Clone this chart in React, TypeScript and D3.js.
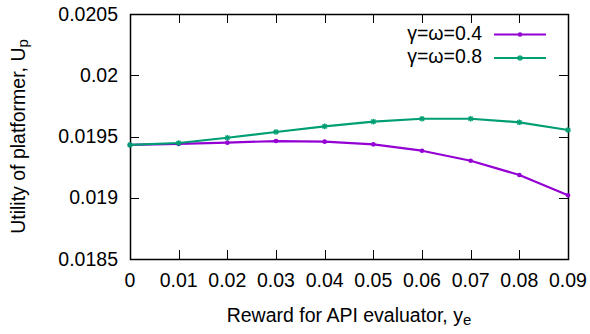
import React, { useEffect, useRef } from "react";
import * as d3 from "d3";

const rewards = [0, 0.01, 0.02, 0.03, 0.04, 0.05, 0.06, 0.07, 0.08, 0.09];
const utilLow = [0.019431, 0.019439, 0.01945, 0.019463, 0.019458, 0.019436, 0.019384, 0.019302, 0.019186, 0.01902];
const utilHigh = [0.019431, 0.019447, 0.01949, 0.019537, 0.019583, 0.019621, 0.019645, 0.019645, 0.019616, 0.019553];
const yTicks = [0.0185, 0.019, 0.0195, 0.02, 0.0205];
const xTickLabels = ["0", "0.01", "0.02", "0.03", "0.04", "0.05", "0.06", "0.07", "0.08", "0.09"];

const W = 590;
const H = 334;
const FONT = "'Liberation Sans', Arial, sans-serif";

function App() {
  const ref = useRef<SVGSVGElement>(null);

  useEffect(() => {
    const margin = { top: 14, right: 22, bottom: 75, left: 130 };
    const svg = d3.select(ref.current);
    svg.selectAll("*").remove();

    const x = d3.scaleLinear().domain([0, 0.09]).range([margin.left, W - margin.right]);
    const y = d3.scaleLinear().domain([0.0185, 0.0205]).range([H - margin.bottom, margin.top]);
    const [x0, x1] = x.range();
    const [y0, y1] = y.range();

    const g = svg.append("g").attr("font-family", FONT).attr("font-size", 19.5).attr("fill", "#000");

    // ticks (inward, mirrored)
    const ticks = g.append("g").attr("stroke", "#000").attr("stroke-width", 1);
    rewards.forEach((r) => {
      const px = Math.round(x(r)) + 0.5;
      ticks.append("line").attr("x1", px).attr("x2", px).attr("y1", y0).attr("y2", y0 - 9);
      ticks.append("line").attr("x1", px).attr("x2", px).attr("y1", y1).attr("y2", y1 + 9);
    });
    yTicks.forEach((t) => {
      const py = Math.round(y(t)) + 0.5;
      ticks.append("line").attr("x1", x0).attr("x2", x0 + 9).attr("y1", py).attr("y2", py);
      ticks.append("line").attr("x1", x1).attr("x2", x1 - 9).attr("y1", py).attr("y2", py);
    });

    // frame
    g.append("rect")
      .attr("x", x0 + 0.5)
      .attr("y", y1 + 0.5)
      .attr("width", x1 - x0)
      .attr("height", y0 - y1)
      .attr("fill", "none")
      .attr("stroke", "#000")
      .attr("stroke-width", 1.5);

    // tick labels
    g.selectAll(".ylab")
      .data(yTicks)
      .enter()
      .append("text")
      .attr("x", x0 - 12)
      .attr("y", (d) => y(d) + 6.5)
      .attr("text-anchor", "end")
      .text((d) => String(d));

    g.selectAll(".xlab")
      .data(rewards)
      .enter()
      .append("text")
      .attr("x", (d) => x(d))
      .attr("y", y0 + 28)
      .attr("text-anchor", "middle")
      .text((d, i) => xTickLabels[i]);

    // axis titles
    const xt = g
      .append("text")
      .attr("x", (x0 + x1) / 2)
      .attr("y", 322)
      .attr("text-anchor", "middle");
    xt.append("tspan").text("Reward for API evaluator, y");
    xt.append("tspan").attr("font-size", 15).attr("dy", 3).text("e");

    const yt = g
      .append("text")
      .attr("transform", `translate(25,${(y0 + y1) / 2}) rotate(-90)`)
      .attr("text-anchor", "middle");
    yt.append("tspan").text("Utility of platformer, U");
    yt.append("tspan").attr("font-size", 15).attr("dy", 3).text("p");

    const series = [
      { name: "γ=ω=0.4", values: utilLow, color: "#9400D3", marker: "dot" },
      { name: "γ=ω=0.8", values: utilHigh, color: "#009E73", marker: "star" },
    ];

    const line = d3
      .line<number>()
      .x((d, i) => x(rewards[i]))
      .y((d) => y(d));

    const drawMarker = (sel: any, cx: number, cy: number, color: string, kind: string) => {
      if (kind === "dot") {
        sel.append("circle").attr("cx", cx).attr("cy", cy).attr("r", 2.3).attr("fill", color);
      } else {
        const s = 2.8;
        const p = sel.append("g").attr("stroke", color).attr("stroke-width", 1.4);
        p.append("line").attr("x1", cx - s).attr("x2", cx + s).attr("y1", cy).attr("y2", cy);
        p.append("line").attr("x1", cx).attr("x2", cx).attr("y1", cy - s).attr("y2", cy + s);
        p.append("line").attr("x1", cx - s * 0.75).attr("x2", cx + s * 0.75).attr("y1", cy - s * 0.75).attr("y2", cy + s * 0.75);
        p.append("line").attr("x1", cx - s * 0.75).attr("x2", cx + s * 0.75).attr("y1", cy + s * 0.75).attr("y2", cy - s * 0.75);
      }
    };

    series.forEach((s) => {
      g.append("path")
        .attr("d", line(s.values))
        .attr("fill", "none")
        .attr("stroke", s.color)
        .attr("stroke-width", 2.2)
        .attr("stroke-linejoin", "round");
      s.values.forEach((v, i) => drawMarker(g, x(rewards[i]), y(v), s.color, s.marker));
    });

    // legend
    series.forEach((s, i) => {
      const ly = 34.5 + i * 23.5;
      g.append("text")
        .attr("x", 482)
        .attr("y", ly + 5)
        .attr("text-anchor", "end")
        .text(s.name);
      g.append("line")
        .attr("x1", 494)
        .attr("x2", 546)
        .attr("y1", ly)
        .attr("y2", ly)
        .attr("stroke", s.color)
        .attr("stroke-width", 2.2);
      drawMarker(g, 520, ly, s.color, s.marker);
    });
  }, []);

  return (
    <svg
      ref={ref}
      width={W}
      height={H}
      style={{ position: "absolute", left: 0, top: 0, background: "#fff" }}
    />
  );
}

export default App;
